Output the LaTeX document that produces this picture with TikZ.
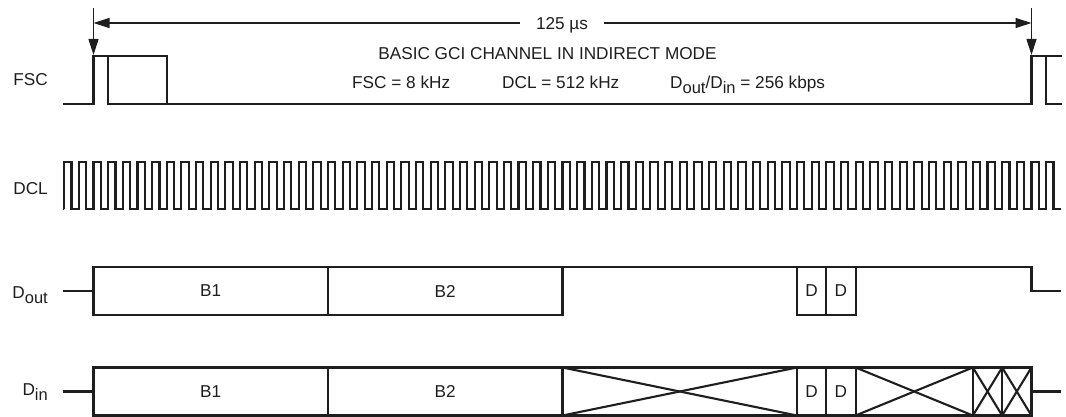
\documentclass[tikz,border=0pt]{standalone}
\usepackage{fontspec}
\setmainfont{Liberation Sans}
\usetikzlibrary{arrows.meta}
\definecolor{ink}{HTML}{1E1E1E}
\newcommand\lsub[1]{\raisebox{-5pt}{\fontsize{16.5}{16.5}\selectfont #1}}
\begin{document}
\begin{tikzpicture}[x=1pt,y=-1pt,
  sig/.style={draw=ink,line width=2.1pt,line join=miter},
  dim/.style={draw=ink,line width=1.1pt,-{Triangle[length=16pt,width=10pt]}},
  txt/.style={text=ink,font=\fontsize{17.2}{20}\selectfont,inner sep=0pt},
  lbl/.style={txt,anchor=base east},
  box/.style={sig,rectangle,inner sep=0pt,outer sep=0pt,minimum height=48pt,text=ink,font=\fontsize{17.2}{20}\selectfont}]
\useasboundingbox (0,0) rectangle (1066,417);

% ---------- period dimension ----------
\coordinate (t0top) at (93.5,8);
\coordinate (t0) at (93.5,55);
\coordinate (t1top) at (1031.5,8);
\coordinate (t1) at (1031.5,55);
\coordinate (d0) at (93.5,23);
\coordinate (d1) at (1031.5,23);
\draw[dim] (t0top) -- (t0);
\draw[dim] (t1top) -- (t1);
\draw[dim,{Triangle[length=16pt,width=10pt]}-{Triangle[length=16pt,width=10pt]}] (d0) -- (d1);
\node[txt,fill=white,inner xsep=16pt,inner ysep=2pt,anchor=base] (per) at (562,29.5) {125 µs};

% ---------- header text ----------
\node[txt,anchor=base] (title) at (547.5,59.5) {BASIC GCI CHANNEL IN INDIRECT MODE};
\node[txt,anchor=base west] (f1) at (352,89) {FSC = 8 kHz};
\node[txt,anchor=base west] (f2) at (502,89) {DCL = 512 kHz};
\node[txt,anchor=base west] (f3) at (670,89) {D\lsub{out}/D\lsub{in} = 256 kbps};

% ---------- labels ----------
\node[lbl] (lfsc) at (48,86) {FSC};
\node[lbl] (ldcl) at (48,194) {DCL};
\node[lbl] (ldout) at (48,298) {D\lsub{out}};
\node[lbl] (ldin) at (48,395) {D\lsub{in}};

% ---------- FSC ----------
\draw[sig] (63,104) -- (93.5,104) -- (93.5,56) -- (167,56) -- (167,104) -- (1031.5,104) -- (1031.5,56) -- (1062,56);
\draw[sig] (108,56) -- (108,104) -- (167,104);
\draw[sig] (1046,56) -- (1046,104) -- (1062,104);

% ---------- DCL ----------
\draw[sig] (64.19,209) \foreach \k in {-2,...,65} {
   -- ({93.5+\k*14.65625},209) -- ++(0,-47) -- ++(7.328,0) -- ++(0,47) } -- (1061,209);

% ---------- D_out ----------
\node[box,minimum width=234.5pt] (ob1) at (210.75,291) {B1};
\node[box,minimum width=234.5pt] (ob2) at (445.25,291) {B2};
\node[box,minimum width=29.3pt] (od1) at (811.65,291) {D};
\node[box,minimum width=29.3pt] (od2) at (840.95,291) {D};
\coordinate (oend) at (1031.5,267);
\coordinate (oout) at (1061,291);
\coordinate (oin) at (63,291);
\draw[sig] (oin) -- (ob1.west);
\draw[sig] (ob2.north east) -- (od1.north west);
\draw[sig] (od2.north east) -- (oend) -- (oend |- oout) -- (oout);

% ---------- D_in ----------
\node[box,minimum width=234.5pt] (ib1) at (210.75,391.5) {B1};
\node[box,minimum width=234.5pt] (ib2) at (445.25,391.5) {B2};
\node[box,minimum width=234.5pt] (im) at (679.75,391.5) {};
\node[box,minimum width=29.3pt] (id1) at (811.65,391.5) {D};
\node[box,minimum width=29.3pt] (id2) at (840.95,391.5) {D};
\node[box,minimum width=117.25pt] (ici) at (914.225,391.5) {};
\node[box,minimum width=29.3pt] (ia) at (987.5,391.5) {};
\node[box,minimum width=29.3pt] (ie) at (1016.8,391.5) {};
\foreach \n in {im,ici,ia,ie} {
  \draw[sig] (\n.north west) -- (\n.south east);
  \draw[sig] (\n.south west) -- (\n.north east);
}
\coordinate (iin) at (63,391.5);
\coordinate (iout) at (1061,391.5);
\draw[sig] (iin) -- (ib1.west);
\draw[sig] (ie.east) -- (iout);
\end{tikzpicture}
\end{document}
